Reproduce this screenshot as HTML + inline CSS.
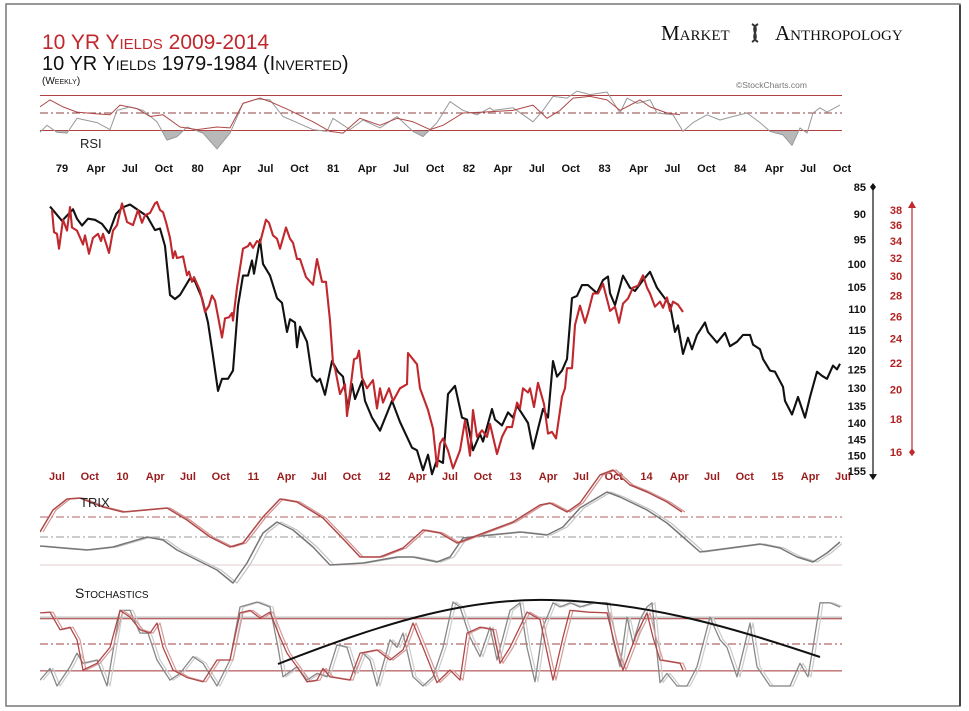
<!DOCTYPE html>
<html><head><meta charset="utf-8">
<style>
html,body{margin:0;padding:0;background:#fff;}
svg{display:block;}
text{font-family:"Liberation Sans",sans-serif;}
.ax{font-weight:bold;font-size:11px;}
</style></head>
<body>
<svg id="chart" width="969" height="711" viewBox="0 0 969 711">
<defs><clipPath id="plotx"><rect x="40" y="0" width="802" height="711"/></clipPath></defs>
<rect x="6" y="4" width="954" height="702" fill="#fff" stroke="#777" stroke-width="1.5"/>
<line x1="960" y1="5" x2="960" y2="706" stroke="#444" stroke-width="2"/>
<text x="42" y="49" font-size="21" fill="#c0282d" style="font-variant:small-caps">10 YR Yields 2009-2014</text>
<text x="42" y="70" font-size="20" fill="#111" style="font-variant:small-caps">10 YR Yields 1979-1984 (Inverted)</text>
<text x="42" y="84" font-size="10" fill="#111" style="font-variant:small-caps">(Weekly)</text>
<g>
<text x="661" y="40" font-size="21" fill="#111" style="font-family:'Liberation Serif',serif;font-variant:small-caps">Market</text>
<path d="M752 24 C762 30,748 36,758 42 M758 24 C748 30,762 36,752 42" stroke="#333" stroke-width="2" fill="none"/>
<text x="775" y="40" font-size="21" fill="#111" style="font-family:'Liberation Serif',serif;font-variant:small-caps">Anthropology</text>
</g>
<text x="736" y="88" font-size="8.5" fill="#777">©StockCharts.com</text>
<g id="rsi"></g>
<g id="main"></g>
<g id="trix" clip-path="url(#plotx)"></g>
<g id="stoch" clip-path="url(#plotx)"></g>
<g id="anno"></g>
<text x="80" y="148" font-size="13" fill="#222">RSI</text>
<text x="80" y="507" font-size="13" fill="#222">TRIX</text>
<text x="75" y="598" font-size="14" fill="#111" style="font-variant:small-caps">Stochastics</text>
</svg>
<script>
// ---- data (x = week index, 0 = early Jul 2009 / start of 1979 series) ----
const blackW=[0,4.8,9.2,10.8,12.8,15.2,18,20.8,23.6,26.4,28.8,32,36,38.8,42,44,46,48,50,52,56,58,60.8,63.2,65.2,67.2,68.8,71.2,73.2,75.2,77.2,79.2,80.8,81.6,84,85.2,88,90.8,92.8,94.8,96,98,98.8,100,102.8,104.8,106.8,108,110,112.8,115.2,117.2,119.2,120.8,122,124.8,126,128.8,132,136.8,140,144.8,146.8,149.2,151.2,152.8,154.8,157.2,159.2,162,164.8,166.8,169.2,172,173.2,176.8,178,180.8,183.2,185.2,186.8,191.2,193.2,197.2,199.2,201.2,202.8,204.8,206.8,208.8,210.8,212.8,215.2,218.8,221.2,223.2,224,226,229.2,232,234,237.2,240,242.8,245.2,248,250,251.2,253.2,255.2,256.8,258.8,262,263.2,266.8,270,272,274.8,277.2,280,281.2,284,285.2,288,290,293.2,294,296.8,299.2,302,304,306.8,308.8,310.8,313.2,314.8,316];
const blackV=[88.6,91.3,89.1,90.9,92.2,90.9,91.1,91.9,93.7,90,88.8,88.2,89.5,90.4,93.1,92.8,96.3,106.8,107.7,106.8,103.1,103.8,107.5,113.2,121.5,130.8,127.5,127.5,125.3,109.3,102.5,102.5,99.3,102.1,95,100,102.5,107.5,108.6,115.5,112.4,113.2,119.3,114.2,117.9,126.7,128.3,127.5,131.9,122.8,125.6,126.9,135.9,128.9,133.1,128.1,133.6,138.4,142.3,133.6,139.7,147.5,148.3,154.7,149.7,156,151.3,152.3,131.7,129.4,138.4,139,148.3,143.3,145.6,135.9,139,140.7,136.9,138.4,135,140,147.8,135.9,138.4,122.8,126.9,125.3,122.3,107.5,107,104.6,104.6,106.4,103.5,102.7,106.4,109.1,102.5,105.2,105.9,103.5,101.7,105.2,107,109.1,115.5,113.9,121,116.9,119.8,116.2,113.2,115.5,118.1,115.7,119,117.9,116.2,116.2,118.6,119.8,122.3,125.3,125.6,129.7,133.6,137.5,132.5,138.4,132.5,125.6,126.7,127.5,124,125,123.5];
const redW=[0.8,1.6,2.8,3.6,5.2,6.8,8,8.8,10.8,13.2,14,15.6,17.2,19.2,20.4,21.2,23.6,25.2,26.8,28.8,30.8,33.2,35.2,36.8,38,40,42,42.8,44,45.2,46.4,48,49.2,50,50.8,53.2,54.8,55.6,56.8,57.6,60,62,63.6,64.8,66,68.8,70,71.6,72.8,73.2,74.8,77.2,79.2,80,81.2,82.8,84,86.4,87.6,89.2,90.8,92,94.4,96,97.2,98.8,100,102.4,105.2,106.8,108.8,110.4,112,113.2,114,116,118,118.8,121.6,122.8,123.6,124.8,126.8,129.2,130.8,132,133.2,135.6,137.2,140,142.8,143.2,146.8,148,151.2,153.2,154.8,156,157.2,159.2,161.2,164,166,168,169.2,170.8,172.8,174.8,176,178.8,180.8,182.8,184.8,186.8,188,189.2,191.2,192,193.6,195.2,197.6,199.2,200.8,202.4,204.8,206,206.8,208.8,210,212,214,215.2,217.2,219.2,221.2,224,226,227.6,229.2,231.2,233.2,235.2,237.2,238.8,240,242,244,245.2,246.8,248,249.2,251.2,253.2];
const redV=[38,35.1,34.9,33.1,36.7,35.3,38.4,35.7,35.3,33.6,34.7,32.5,34.4,34.9,34,34.9,32.6,35.3,36,38.9,36.4,36,38,36.3,37.3,37.6,38.9,39.1,38,37.7,36.4,34.4,32,32.8,32,32.2,30.1,30.5,29.4,29.9,28.5,26.4,27,28,27.5,24.1,25.8,25.9,26.3,25.6,28.8,33.1,33.4,33.8,33.2,34,33.8,36.7,36.3,34.7,34.3,33.1,35.7,34.3,33.8,31.9,31.9,29.9,29.1,31.9,29.4,29.4,25.6,22,21.6,19.7,20.4,18.2,22.3,22.4,23,20.9,20.1,20.7,18.7,20.1,19.1,20.1,19.2,20.1,20.4,22.8,21.9,20.1,18.6,17.4,15.2,16.5,16.8,16.1,15.1,16.1,17.9,15.8,18.6,16.9,17.3,16.9,17.7,15.9,16.9,17.5,17.5,19.1,18.7,20.1,19.8,20.1,18.8,20.5,19,17.1,17.2,16.8,19.5,20.1,21.6,21.6,25.2,27,25.4,26.3,28.2,28.2,29.2,26.5,26.9,25.4,27.2,27.7,28.8,29,30.1,28.8,28.2,26.9,27.4,26.8,27.8,26.5,27.4,27.1,26.4];
const blackTicks=[85,90,95,100,105,110,115,120,125,130,135,140,145,150,155];
const redTicks=[38,36,34,32,30,28,26,24,22,20,18,16];
const topLabels=['79','Apr','Jul','Oct','80','Apr','Jul','Oct','81','Apr','Jul','Oct','82','Apr','Jul','Oct','83','Apr','Jul','Oct','84','Apr','Jul','Oct'];
const botLabels=['Jul','Oct','10','Apr','Jul','Oct','11','Apr','Jul','Oct','12','Apr','Jul','Oct','13','Apr','Jul','Oct','14','Apr','Jul','Oct','15','Apr','Jul'];
// RSI
const rsiGrayW=[-4,-1.2,2.8,6.8,10.8,18.8,24,26.8,32,37.2,42.8,46.8,50.8,54.8,61.2,66.8,72,77.2,82.8,88,93.2,98.8,105.2,110.8,113.2,120,125.2,132,138.8,145.2,149.2,154.8,160,165.2,170.8,176,177.2,185.2,193.2,197.2,201.2,206.8,210.8,216,222.8,228,230.8,234.8,240,242.8,249.2,253.2,257.2,262.8,268,273.2,278.8,284,288,293.2,296.8,300,302.8,305.2,308,310.8,316];
const rsiGrayV=[28,36,28,27,44,39,31,53,57,53,40,19,23,34,27,9,27,61,66,65,46,39,31,29,44,31,42,33,46,29,23,39,63,53,48,56,53,56,40,53,69,67,75,71,74,50,67,61,65,50,48,29,39,48,42,46,50,39,29,25,13,33,27,50,56,51,59];
const rsiRedW=[-4,0,5.2,10.8,18.8,24,28,34.8,40,45.2,52,58.8,66.8,72,77.2,84,88,96,105.2,112,117.2,124,132,138.8,145.2,152,157.2,165.2,173.2,185.2,193.2,198.8,204,209.2,216,222.8,228,236,240,246.8,252];
const rsiRedV=[57,65,57,51,49,48,59,55,46,48,34,31,34,33,61,67,63,53,40,29,27,44,36,44,40,31,36,50,51,53,59,44,53,67,69,65,53,65,57,50,48];
// TRIX
const trixGrayW=[-4,5.2,14.8,25.2,38.8,45.2,50.8,58.8,66.8,73.2,78.8,85.2,90.8,97.2,105.2,112,125.2,138.8,145.2,154.8,160,165.2,172,188,198.8,205.2,212,222.8,228,238.8,246.8,253.2,260,272,284,292,298.8,305.2,310.8,316];
const trixGrayV=[-0.9,-1.1,-1.3,-1,0,-0.3,-1.3,-2.3,-3.3,-4.6,-2.6,0.4,1.5,0.7,-1,-2.8,-2.6,-2,-2,-2.5,-2,-0.1,0.1,0.5,0.2,1,2.9,4.5,4,2.7,1.4,0,-1.5,-1.1,-0.7,-1.1,-2,-2.5,-1.6,-0.5];
const trixRedW=[-4,1.2,6.8,12,21.2,29.2,46.8,54.8,64,72,77.2,85.2,92,98.8,109.2,118.8,124,132,141.2,149.2,156,162.8,169.2,178.8,185.2,196,200,206.8,212,220,225.2,232,238.8,246.8,252.8];
const trixRedV=[0.5,2.7,3.8,3.9,3,2.5,2.9,1.7,0,-1,-0.6,2,3.8,3.5,1.9,-0.6,-2,-2,-1.1,0.7,0.4,-0.6,0,0.9,1.5,3.2,3.4,2.5,3.4,6.2,6.7,5.2,4.5,3.5,2.5];
// Stochastics
const stGrayW=[-4,0,2.8,8,10.8,13.2,18.8,22.8,28,32,36,39.2,42.8,48,52,57.2,61.2,66.8,72,76,82.8,88,91.2,93.2,98.8,102.8,106.8,110.8,114.8,118.8,122,125.2,128,130.8,136,138.8,141.2,145.2,149.2,153.2,157.2,161.2,164,168,172,176,178.8,184,188,190.8,194,197.2,201.2,204,208,212,217.2,222.8,225.2,228,230.8,233.2,236,238.8,240.8,244,246.8,250.8,254.8,258.8,264,268,270.8,274.8,280,282.8,288,296,300,303.2,305.2,308,312,316];
const stGrayV=[7,21,0,23,39,27,31,0,90,90,63,63,31,7,15,35,27,0,31,94,100,94,46,11,23,7,15,11,49,46,15,39,31,0,55,46,63,11,0,11,46,100,94,58,35,70,31,90,99,46,5,70,99,94,99,94,99,99,55,23,82,51,79,94,99,4,15,0,0,23,82,55,46,11,75,23,0,0,27,11,46,99,99,94];
const stRedW=[-4,0,4,8,10.8,13.2,18.8,24,28,32,36,40,42.8,45.2,49.2,54.8,61.2,66.8,72,76,80,84,88,92,94.8,98.8,102.8,106.8,109.2,112,120,124,130.8,136,141.2,145.2,149.2,154.8,160,164,166.8,172,177.2,180,184,190.8,196,201.2,205.2,208,214.8,222.8,226.8,229.2,234.8,238.8,241.2,244,252,253.2];
const stRedV=[87,88,67,70,55,19,27,46,90,82,67,63,75,46,19,10,5,31,31,87,90,81,88,58,39,23,5,7,21,11,7,39,43,31,43,75,46,4,19,7,63,70,67,27,46,88,79,7,58,90,88,87,39,19,63,87,58,31,27,19];

// ---- scales ----
const X=w=>50+w*2.5;
const yBlack=v=>187+(Math.log(v)-Math.log(85))*473;
const yRed=v=>210+(Math.log(38)-Math.log(v))*280;
const yRsi=v=>113-(v-50)*0.875;
const yTrix=v=>537-v*10;
const yStoch=v=>686-v*0.84;
const NS='http://www.w3.org/2000/svg';
function mk(tag,attrs,parent){const e=document.createElementNS(NS,tag);for(const k in attrs)e.setAttribute(k,attrs[k]);parent.appendChild(e);return e;}
function pathD(ws,vs,fy,dx){return ws.map((w,i)=>(i?'L':'M')+(X(w)+(dx||0)).toFixed(1)+' '+fy(vs[i]).toFixed(1)).join(' ');}
function hline(g,y,color,dash,name){const l=mk('line',{x1:40,x2:842,y1:y,y2:y,stroke:color,'stroke-width':1,'stroke-dasharray':dash||''},g);

}
function series(g,ws,vs,fy,color,width,name,dx,op){const p=mk('path',{d:pathD(ws,vs,fy,dx),fill:'none',stroke:color,'stroke-width':width,'stroke-linejoin':'round','stroke-opacity':op||1},g);


return p;}

const svg=document.getElementById('chart');
const defs=svg.querySelector('defs');
// RSI panel
const rsi=document.getElementById('rsi');
const cp=mk('clipPath',{id:'below30'},defs);mk('rect',{x:0,y:yRsi(30),width:969,height:40},cp);
const fillD=pathD(rsiGrayW,rsiGrayV,yRsi)+' L'+X(rsiGrayW[rsiGrayW.length-1])+' '+yRsi(30)+' L'+X(rsiGrayW[0])+' '+yRsi(30)+' Z';
const fa=mk('path',{d:fillD,fill:'#b8b8b8','clip-path':'url(#below30)'},rsi);


hline(rsi,yRsi(70),'#b04040','','rsi-70-line');
hline(rsi,yRsi(50),'#8a4040','8 3 2 3','rsi-50-line');
hline(rsi,yRsi(30),'#b04040','','rsi-30-line');
series(rsi,rsiGrayW,rsiGrayV,yRsi,'#999',1,'rsi-1979-line');
series(rsi,rsiRedW,rsiRedV,yRsi,'#b04848',1,'rsi-2009-line');

topLabels.forEach((t,i)=>{const x=62+i*(842-62)/23;const e=mk('text',{x:x,y:172,'text-anchor':'middle',class:'ax',fill:'#111'},rsi);e.textContent=t;

});

// main panel
const m=document.getElementById('main');
series(m,blackW,blackV,yBlack,'#111',2.1,'yield-1979-line');
series(m,redW,redV,yRed,'#c0282d',2.1,'yield-2009-line');
botLabels.forEach((t,i)=>{const x=57+i*(843-57)/24;const e=mk('text',{x:x,y:480,'text-anchor':'middle',class:'ax',fill:'#9a1c1c'},m);e.textContent=t;

});
// black axis
const ba=mk('line',{x1:873,x2:873,y1:yBlack(85),y2:yBlack(155)+5,stroke:'#111','stroke-width':1.2},m);


mk('path',{d:`M873 ${yBlack(85)-4} l3 4 l-3 4 l-3 -4z`,fill:'#111'},m);
mk('path',{d:`M869 ${yBlack(155)+3} l8 0 l-4 6z`,fill:'#111'},m);
blackTicks.forEach(v=>{const e=mk('text',{x:866,y:yBlack(v)+4,'text-anchor':'end',class:'ax',fill:'#111'},m);e.textContent=v;

});
// red axis
const ra=mk('line',{x1:912,x2:912,y1:yRed(38)-3,y2:yRed(16),stroke:'#c0282d','stroke-width':1.2},m);


mk('path',{d:`M908 ${yRed(38)-2} l8 0 l-4 -7z`,fill:'#c0282d'},m);
mk('path',{d:`M912 ${yRed(16)-4} l3 4 l-3 4 l-3 -4z`,fill:'#c0282d'},m);
redTicks.forEach(v=>{const e=mk('text',{x:896,y:yRed(v)+4,'text-anchor':'middle',class:'ax',fill:'#b22222'},m);e.textContent=v;

});

// TRIX
const tr=document.getElementById('trix');
hline(tr,yTrix(2),'#b06060','8 3 2 3','trix-upper-line');
hline(tr,yTrix(0),'#999','8 3 2 3','trix-zero-line');
hline(tr,yTrix(-2.8),'#e0cccc','','trix-base-line');
series(tr,trixGrayW,trixGrayV,yTrix,'#c4c4c4',1.2,'trix-1979-signal',4);
series(tr,trixGrayW,trixGrayV,yTrix,'#777',1.5,'trix-1979-line');
series(tr,trixRedW,trixRedV,yTrix,'#d09090',1.2,'trix-2009-signal',3);
series(tr,trixRedW,trixRedV,yTrix,'#b04848',1.5,'trix-2009-line');

// Stochastics
const st=document.getElementById('stoch');
hline(st,yStoch(82),'#aaa','','stoch-gray-80-line');
hline(st,yStoch(80),'#a03030','','stoch-80-line');
hline(st,yStoch(50),'#a04040','8 3 2 3','stoch-50-line');
hline(st,yStoch(18),'#a03030','','stoch-20-line');
series(st,stGrayW,stGrayV,yStoch,'#ccc',1.2,'stoch-1979-signal',3);
series(st,stGrayW,stGrayV,yStoch,'#888',1.3,'stoch-1979-line');
series(st,stRedW,stRedV,yStoch,'#d49a9a',1.2,'stoch-2009-signal',3);
series(st,stRedW,stRedV,yStoch,'#b04848',1.3,'stoch-2009-line');
const anno=document.getElementById('anno');
const arc=mk('path',{d:'M278 664 C390 620,470 598,550 600 C650 602,740 630,820 657',fill:'none',stroke:'#111','stroke-width':2},anno);


</script>
</body></html>
